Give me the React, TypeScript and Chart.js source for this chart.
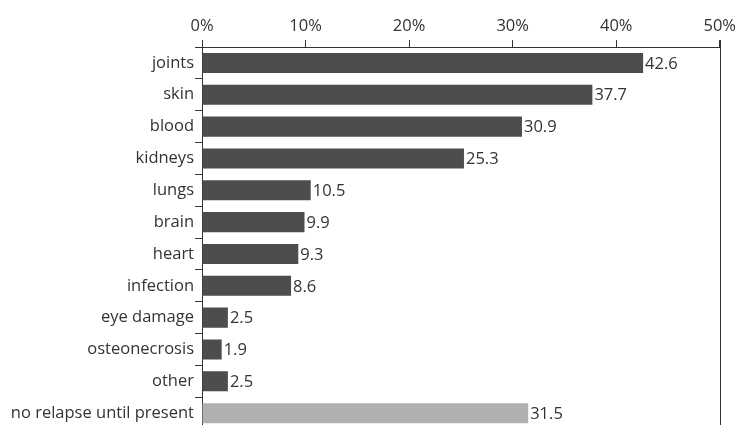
import React, { useEffect, useRef } from "react";
import { Chart, registerables } from "chart.js";

Chart.register(...registerables);

const categories = [
  "joints", "skin", "blood", "kidneys", "lungs", "brain", "heart",
  "infection", "eye damage", "osteonecrosis", "other", "no relapse until present",
];
const values = [42.6, 37.7, 30.9, 25.3, 10.5, 9.9, 9.3, 8.6, 2.5, 1.9, 2.5, 31.5];
const barColors = [
  "#4d4d4d", "#4d4d4d", "#4d4d4d", "#4d4d4d", "#4d4d4d", "#4d4d4d",
  "#4d4d4d", "#4d4d4d", "#4d4d4d", "#4d4d4d", "#4d4d4d", "#b0b0b0",
];
const xMin = 0;
const xMax = 50;
const xStep = 10;

const FONT = "'Open Sans', sans-serif";
const FSIZE = 16.5;
const TEXT = "#333333";
const AXIS = "#333333";

const valueLabels = {
  id: "valueLabels",
  afterDatasetsDraw(chart: any) {
    const ctx = chart.ctx;
    const meta = chart.getDatasetMeta(0);
    ctx.save();
    ctx.font = `${FSIZE}px ${FONT}`;
    ctx.fillStyle = TEXT;
    ctx.textAlign = "left";
    ctx.textBaseline = "middle";
    meta.data.forEach((bar: any, i: number) => {
      ctx.fillText(String(values[i]), bar.x + 2, bar.y + 1);
    });
    ctx.restore();
  },
};

const rightBorder = {
  id: "rightBorder",
  afterDraw(chart: any) {
    const { ctx, chartArea } = chart;
    ctx.save();
    ctx.strokeStyle = AXIS;
    ctx.lineWidth = 1;
    ctx.beginPath();
    const x = Math.round(chartArea.right) + 0.5;
    ctx.moveTo(x, chartArea.top - 7);
    ctx.lineTo(x, chartArea.bottom);
    ctx.stroke();
    ctx.restore();
  },
};

export default function App() {
  const ref = useRef<HTMLCanvasElement>(null);
  useEffect(() => {
    if (!ref.current) return;
    const chart = new Chart(ref.current, {
      type: "bar",
      data: {
        labels: categories,
        datasets: [
          {
            data: values,
            backgroundColor: barColors,
            borderWidth: 0,
            barPercentage: 0.63,
            categoryPercentage: 1,
          },
        ],
      },
      options: {
        indexAxis: "y",
        animation: false,
        responsive: false,
        maintainAspectRatio: false,
        layout: { padding: { left: 0, right: 18, top: 0, bottom: 0 } },
        plugins: {
          legend: { display: false },
          tooltip: { enabled: false },
        },
        scales: {
          x: {
            position: "top",
            min: xMin,
            max: xMax,
            afterFit: (s: any) => {
              s.height = 47;
            },
            ticks: {
              stepSize: xStep,
              callback: (v: any) => `${v}%`,
              font: { family: FONT, size: FSIZE },
              color: TEXT,
              padding: 4,
            },
            grid: {
              drawOnChartArea: false,
              drawTicks: true,
              tickLength: 7,
              color: AXIS,
            },
            border: { display: true, color: AXIS, width: 1 },
          },
          y: {
            afterFit: (s: any) => {
              s.width = 202;
            },
            ticks: {
              font: { family: FONT, size: FSIZE },
              color: TEXT,
              padding: 1,
            },
            grid: {
              offset: true,
              drawOnChartArea: false,
              drawTicks: true,
              tickLength: 7,
              color: AXIS,
            },
            border: { display: true, color: AXIS, width: 1 },
          },
        },
      },
      plugins: [valueLabels, rightBorder],
    });
    return () => chart.destroy();
  }, []);
  return (
    <div style={{ position: "fixed", top: 0, left: 0, width: 740, height: 440 }}>
      <canvas ref={ref} width={740} height={440} />
    </div>
  );
}
